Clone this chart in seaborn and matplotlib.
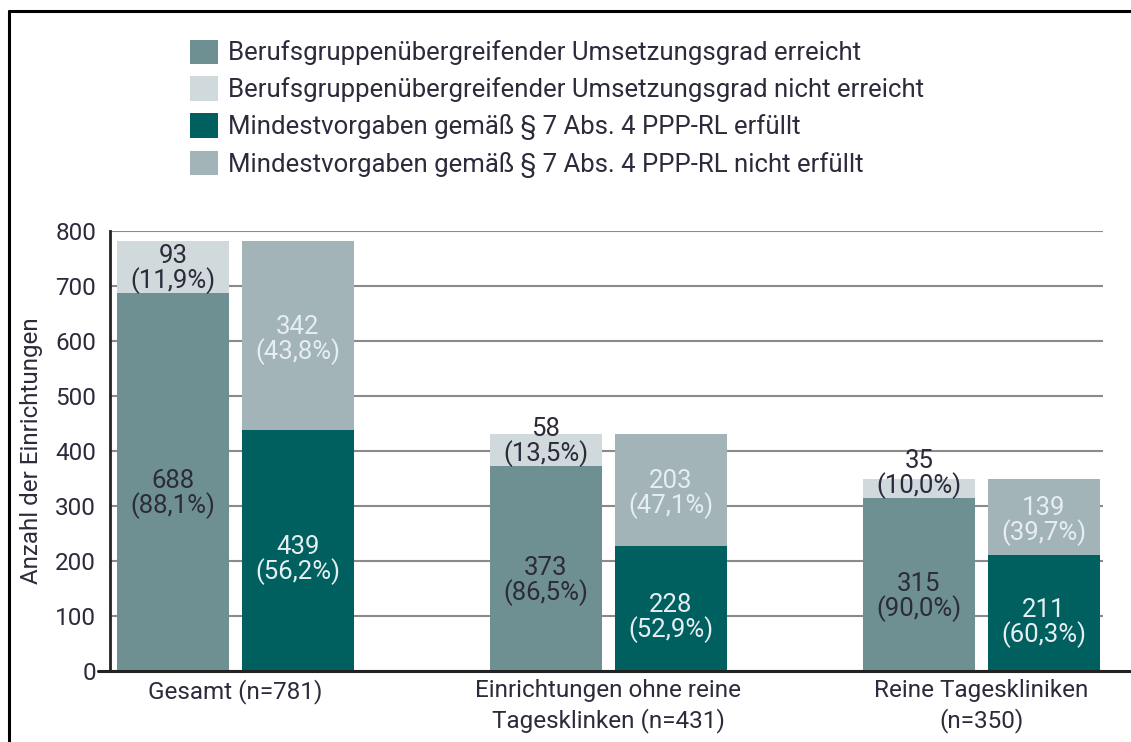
import matplotlib
matplotlib.use("Agg")
import matplotlib.pyplot as plt
import seaborn as sns
import pandas as pd
from matplotlib.patches import Patch
from matplotlib.lines import Line2D

# ---- data ----
gruppen = ["Gesamt (n=781)", "Einrichtungen ohne reine\nTagesklinken (n=431)", "Reine Tageskliniken\n(n=350)"]
umsetzung_erreicht = [688, 373, 315]
umsetzung_nicht = [93, 58, 35]
umsetzung_erreicht_pct = ["88,1%", "86,5%", "90,0%"]
umsetzung_nicht_pct = ["11,9%", "13,5%", "10,0%"]
mindest_erfuellt = [439, 228, 211]
mindest_nicht = [342, 203, 139]
mindest_erfuellt_pct = ["56,2%", "52,9%", "60,3%"]
mindest_nicht_pct = ["43,8%", "47,1%", "39,7%"]
legend_labels = [
    "Berufsgruppenübergreifender Umsetzungsgrad erreicht",
    "Berufsgruppenübergreifender Umsetzungsgrad nicht erreicht",
    "Mindestvorgaben gemäß § 7 Abs. 4 PPP-RL erfüllt",
    "Mindestvorgaben gemäß § 7 Abs. 4 PPP-RL nicht erfüllt",
]
y_ticks = [0, 100, 200, 300, 400, 500, 600, 700, 800]
y_label = "Anzahl der Einrichtungen"

# ---- style ----
C_U_BOT = "#6f9092"
C_U_TOP = "#d0d9db"
C_M_BOT = "#006060"
C_M_TOP = "#a2b4b7"
TXT = "#2b2b3b"
LIGHT_TXT = "#e6eef0"

sns.set_style("white")
plt.rcParams["font.family"] = ["Roboto", "DejaVu Sans"]

fig = plt.figure(figsize=(11.31, 7.42), dpi=100)
ax = fig.add_axes([110 / 1131, 1 - 671 / 742, (1103 - 110) / 1131, (671 - 231) / 742])

kriterien = ["U", "M"]
df_tot = pd.DataFrame({
    "Gruppe": gruppen * 2,
    "Kriterium": ["U"] * 3 + ["M"] * 3,
    "Wert": [a + b for a, b in zip(umsetzung_erreicht, umsetzung_nicht)]
    + [a + b for a, b in zip(mindest_erfuellt, mindest_nicht)],
})
df_bot = pd.DataFrame({
    "Gruppe": gruppen * 2,
    "Kriterium": ["U"] * 3 + ["M"] * 3,
    "Wert": umsetzung_erreicht + mindest_erfuellt,
})

W = 0.67
GAP = 0.105
sns.barplot(data=df_tot, x="Gruppe", y="Wert", hue="Kriterium", hue_order=kriterien,
            palette=[C_U_TOP, C_M_TOP], saturation=1, width=W, gap=GAP, linewidth=0, ax=ax,
            legend=False, zorder=2)
sns.barplot(data=df_bot, x="Gruppe", y="Wert", hue="Kriterium", hue_order=kriterien,
            palette=[C_U_BOT, C_M_BOT], saturation=1, width=W, gap=GAP, linewidth=0, ax=ax,
            legend=False, zorder=3)

ax.set_xlim(-0.336, 2.326)
ax.set_ylim(0, 800)
ax.set_yticks(y_ticks)
ax.set_yticklabels([str(t) for t in y_ticks], fontsize=17.5, color=TXT)
ax.tick_params(axis="y", direction="out", length=6, width=1.5, color="#222222", pad=4)
ax.tick_params(axis="x", length=0, pad=6)
ax.set_xticks(range(3))
ax.set_xticklabels(gruppen, fontsize=17.5, color=TXT, linespacing=1.3)
ax.set_xlabel("")
ax.set_ylabel(y_label, fontsize=17.4, color=TXT, labelpad=9)
ax.yaxis.grid(True, color="#8a8a8a", linewidth=1.5, zorder=0)
ax.set_axisbelow(True)
for s in ["top", "right", "bottom"]:
    ax.spines[s].set_visible(False)
ax.spines["left"].set_color("#222222")
ax.spines["left"].set_linewidth(2)
ax.axhline(0, xmin=-0.012, xmax=1.03, color="#222222", linewidth=2.2, clip_on=False, zorder=5)

# ---- labels ----
off = W / 4
fs = 18.5
ls = 0.95
for i in range(3):
    xu = i - off
    xm = i + off
    ax.annotate(f"{umsetzung_erreicht[i]}\n({umsetzung_erreicht_pct[i]})",
                (xu, umsetzung_erreicht[i] / 2), xytext=(0, -9), textcoords="offset points",
                ha="center", va="center", fontsize=fs, color=TXT, linespacing=ls, zorder=6)
    ax.annotate(f"{umsetzung_nicht[i]}\n({umsetzung_nicht_pct[i]})",
                (xu, umsetzung_erreicht[i]), xytext=(0, -1), textcoords="offset points",
                ha="center", va="bottom", fontsize=fs, color=TXT, linespacing=ls, zorder=6)
    ax.annotate(f"{mindest_erfuellt[i]}\n({mindest_erfuellt_pct[i]})",
                (xm, mindest_erfuellt[i] / 2), xytext=(0, -7), textcoords="offset points",
                ha="center", va="center", fontsize=fs, color=LIGHT_TXT, linespacing=ls, zorder=6)
    ax.annotate(f"{mindest_nicht[i]}\n({mindest_nicht_pct[i]})",
                (xm, mindest_erfuellt[i] + mindest_nicht[i] / 2), xytext=(0, -3), textcoords="offset points",
                ha="center", va="center", fontsize=fs, color=LIGHT_TXT, linespacing=ls, zorder=6)

# ---- legend ----
handles = [Patch(facecolor=c, edgecolor="none") for c in [C_U_BOT, C_U_TOP, C_M_BOT, C_M_TOP]]
fig.legend(handles, legend_labels, loc="upper left", bbox_to_anchor=(190 / 1131, 1 - 39.5 / 742),
           frameon=False, fontsize=18.5, handlelength=1.09, handleheight=1.09,
           handletextpad=0.39, labelspacing=0.42, borderpad=0, borderaxespad=0,
           labelcolor=TXT)

# ---- outer frame (left & top) ----
fig.add_artist(Line2D([9 / 1131, 9 / 1131], [0, 1 - 11 / 742], color="black", linewidth=2.2))
fig.add_artist(Line2D([9 / 1131, 1], [1 - 11 / 742, 1 - 11 / 742], color="black", linewidth=2.2))

fig.savefig("out.png", dpi=100)
